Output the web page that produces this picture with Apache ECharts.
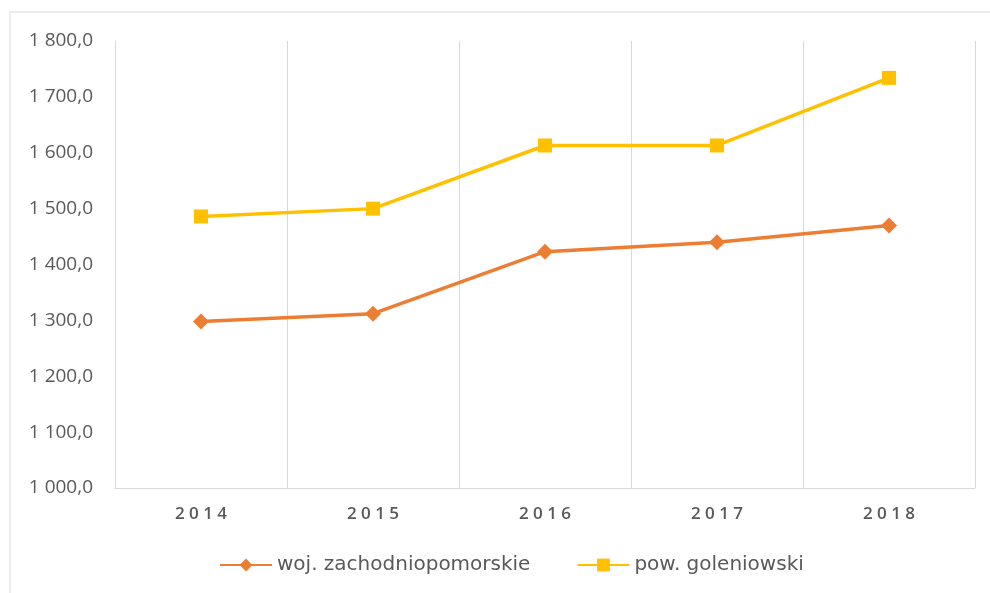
<!DOCTYPE html>
<html>
<head>
<meta charset="utf-8">
<script src="https://cdn.jsdelivr.net/npm/echarts@6/dist/echarts.min.js"></script>
<style>
  html, body { margin: 0; padding: 0; background: #fff; }
  #main { width: 990px; height: 593px; }
</style>
</head>
<body>
<div id="main"></div>
<script>
// dane
var years = ['2014', '2015', '2016', '2017', '2018'];
var wojValues = [1298, 1312, 1423, 1440, 1470];
var powValues = [1486, 1500, 1613, 1613, 1734];
var seriesNames = ['woj. zachodniopomorskie', 'pow. goleniowski'];

var chart = echarts.init(document.getElementById('main'));

// "1 800,0"
function fmtY(v) {
  var s = v.toFixed(1).replace('.', ',');
  var parts = s.split(',');
  var intPart = parts[0].replace(/\B(?=(\d{3})+(?!\d))/g, ' ');
  return intPart + ',' + parts[1];
}

chart.setOption({
  animation: false,
  textStyle: { fontFamily: 'Open Sans, DejaVu Sans, sans-serif' },
  graphic: [{
    type: 'rect',
    shape: { x: 10, y: 12, width: 1000, height: 600 },
    style: { fill: 'none', stroke: '#d9d9d9', lineWidth: 1 },
    silent: true
  }],
  grid: { left: 115, right: 15, top: 41, bottom: 105 },
  legend: {
    bottom: 13,
    left: 214,
    itemWidth: 52,
    itemHeight: 16,
    itemGap: 46,
    textStyle: { color: '#595959', fontSize: 20, fontFamily: 'DejaVu Sans, sans-serif' },
    data: seriesNames
  },
  xAxis: {
    type: 'category',
    data: years,
    boundaryGap: true,
    axisLine: { lineStyle: { color: '#d9d9d9', width: 1 } },
    axisTick: { show: false },
    splitLine: { show: true, lineStyle: { color: '#d9d9d9', width: 1 } },
    axisLabel: {
      color: '#595959', fontSize: 17, margin: 18, fontWeight: 600,
      formatter: function (v) { return v.split('').join(' '); }
    }
  },
  yAxis: {
    type: 'value',
    min: 1000,
    max: 1800,
    interval: 100,
    axisLine: { show: true, lineStyle: { color: '#d9d9d9', width: 1 } },
    axisTick: { show: false },
    splitLine: { show: false },
    axisLabel: { color: '#595959', fontSize: 19, margin: 22, formatter: fmtY }
  },
  series: [
    {
      name: seriesNames[0],
      type: 'line',
      data: wojValues,
      symbol: 'diamond',
      symbolSize: 16,
      color: '#ED7D31',
      lineStyle: { width: 3.5, color: '#ED7D31' },
      itemStyle: { color: '#ED7D31' }
    },
    {
      name: seriesNames[1],
      type: 'line',
      data: powValues,
      symbol: 'rect',
      symbolSize: 14,
      color: '#FFC000',
      lineStyle: { width: 3.5, color: '#FFC000' },
      itemStyle: { color: '#FFC000' }
    }
  ]
});
</script>
</body>
</html>
